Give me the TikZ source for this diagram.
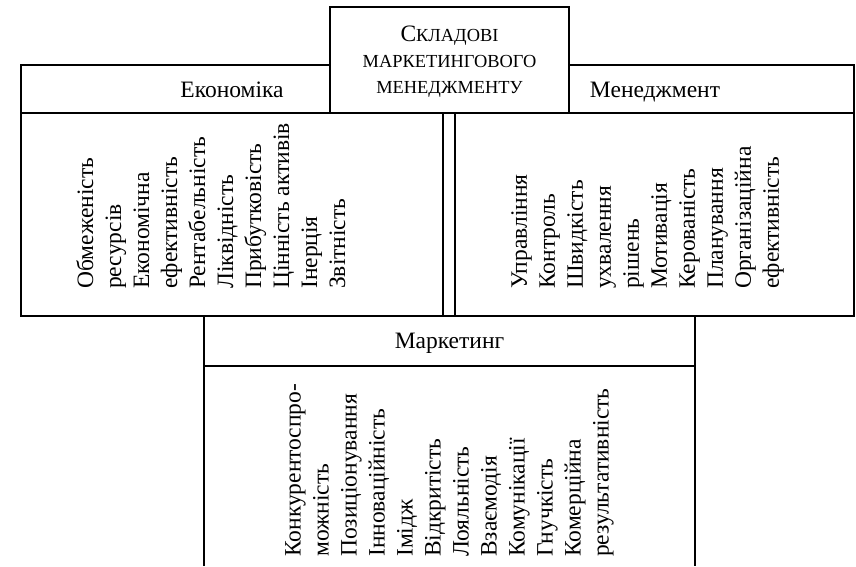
\documentclass[tikz,border=0pt]{standalone}
\usepackage{fontspec}
\setmainfont{Liberation Serif}
\begin{document}
\begin{tikzpicture}[x=1pt,y=-1pt,
  frame/.style={draw=black, line width=1.5pt},
  whitebox/.style={draw=black, line width=1.5pt, fill=white},
  head/.style={font=\fontsize{23.5}{28}\selectfont, anchor=base, inner sep=0pt},
  vlist/.style={font=\fontsize{23.5}{28}\selectfont, rotate=90, anchor=north west, align=left, inner sep=0pt},
  small/.style={font=\fontsize{18.4}{20}\selectfont, anchor=base, inner sep=0pt}]
\useasboundingbox (0,0) rectangle (856,566);
% left part
\draw[frame] (21,65) rectangle (443,113);
\draw[frame] (21,113) rectangle (443,316);
% right part
\draw[frame] (455,65) rectangle (854,113);
\draw[frame] (455,113) rectangle (854,316);
% central title box
\draw[whitebox] (330,7) rectangle (569,113);
% bottom part
\draw[frame] (204,566) -- (204,316) -- (695,316) -- (695,566);
\draw[frame] (204,366) -- (695,366);
% texts
\node[head] (t1) at (449.5,41.5) {С\fontsize{18.4}{20}\selectfont КЛАДОВІ};
\node[small] (t2) at (449.5,67) {МАРКЕТИНГОВОГО};
\node[small] (t3) at (449.5,93) {МЕНЕДЖМЕНТУ};
\node[head] (eco) at (232,97) {Економіка};
\node[head] (man) at (655,97) {Менеджмент};
\node[head] (mar) at (449.5,348) {Маркетинг};
\node[vlist] (ecolist) at (76,289) {Обмеженість\\ресурсів\\Економічна\\ефективність\\Рентабельність\\Ліквідність\\Прибутковість\\Цінність активів\\Інерція\\Звітність};
\node[vlist] (manlist) at (511,289) {Управління\\Контроль\\Швидкість\\ухвалення\\рішень\\Мотивація\\Керованість\\Планування\\Організаційна\\ефективність};
\node[vlist] (marlist) at (285,557) {Конкурентоспро-\\можність\\Позиціонування\\Інноваційність\\Імідж\\Відкритість\\Лояльність\\Взаємодія\\Комунікації\\Гнучкість\\Комерційна\\результативність};
\end{tikzpicture}
\end{document}
